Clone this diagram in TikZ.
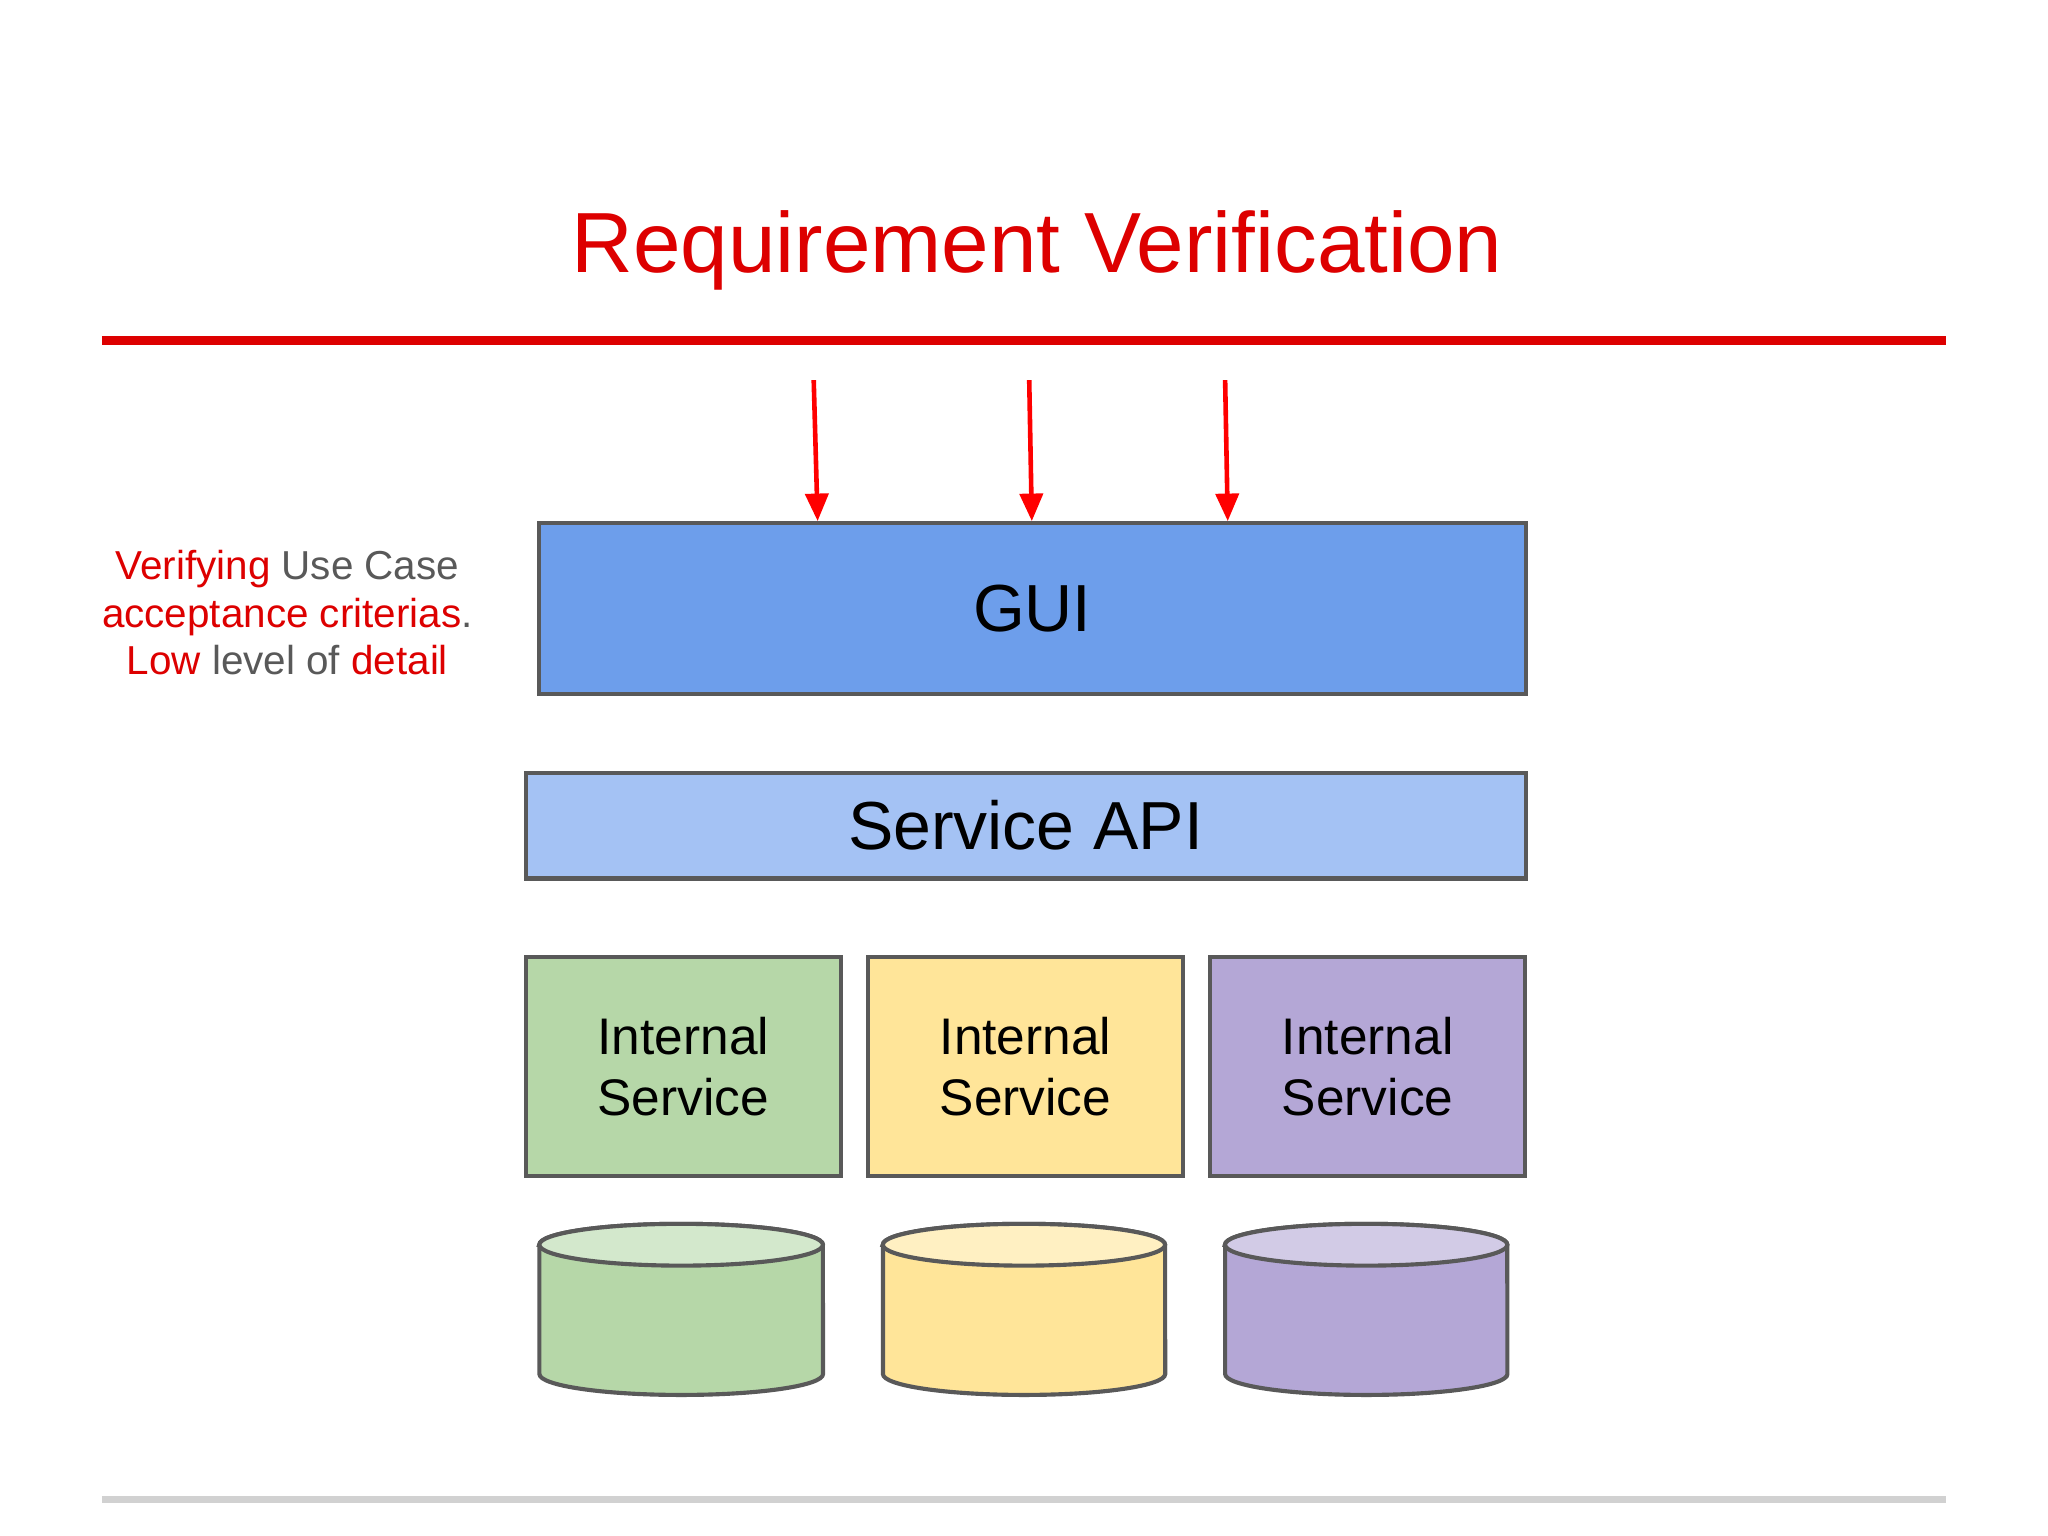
\documentclass[tikz,border=0pt]{standalone}
\usepackage{fontspec}
\setmainfont{Liberation Sans}
\usetikzlibrary{arrows.meta}
\definecolor{tred}{HTML}{DD0000}
\definecolor{edge}{HTML}{595959}
\definecolor{gui}{HTML}{6D9EEB}
\definecolor{api}{HTML}{A4C2F4}
\definecolor{gr}{HTML}{B6D7A8}
\definecolor{grl}{HTML}{D3E8CC}
\definecolor{ye}{HTML}{FFE599}
\definecolor{yel}{HTML}{FFF0C2}
\definecolor{pu}{HTML}{B4A7D6}
\definecolor{pul}{HTML}{D2CBE6}
\definecolor{gtxt}{HTML}{595959}
\tikzset{
 layer/.style={draw=edge,line width=0.9pt,inner sep=0pt,anchor=north west},
 svc/.style={layer,minimum width=2.41cm,minimum height=1.68cm,font=\fontsize{11.2}{13.4}\selectfont,align=center},
 down/.style={-{Triangle[length=6pt,width=5pt]},red,line width=1pt},
 cyl/.style={draw=edge,line width=0.9pt}
}
\newcommand{\cylinder}[4]{% cx, rx(cm), fill, topfill
 \draw[cyl,fill=#3] (#1-#2*100,953) -- (#1-#2*100,1052) arc[start angle=180,end angle=360,x radius=#2cm,y radius=0.16cm] -- (#1+#2*100,953) arc[start angle=0,end angle=180,x radius=#2cm,y radius=0.16cm] -- cycle;
 \draw[cyl,fill=#4] (#1,953) ellipse[x radius=#2cm,y radius=0.16cm];}
\begin{document}
\begin{tikzpicture}[x=0.01cm,y=-0.01cm]
\useasboundingbox[fill=white] (0,0) rectangle (1568,1176);
\node[text=tred,font=\fontsize{18.6}{22}\selectfont] (title) at (794,192) {Requirement Verification};
\draw[tred,line width=2pt] (78,261) -- (1490,261);
\draw[black!18,line width=1.7pt] (78,1148) -- (1490,1148);
\node[layer,fill=gui,minimum width=7.55cm,minimum height=1.31cm,font=\fontsize{14.5}{17}\selectfont] (gui) at (411,399) {GUI};
\node[layer,fill=api,minimum width=7.65cm,minimum height=0.81cm,font=\fontsize{14.8}{17}\selectfont] (api) at (401,590) {Service API};
\node[svc,fill=gr] (s1) at (401,731) {Internal\\Service};
\node[svc,fill=ye] (s2) at (663,731) {Internal\\Service};
\node[svc,fill=pu] (s3) at (925,731) {Internal\\Service};
\coordinate (a1) at (623,291); \coordinate (a2) at (788,291); \coordinate (a3) at (938,291);
\draw[down] (a1) -- (gui.north west -| 626,0);
\draw[down] (a2) -- (gui.north west -| 790,0);
\draw[down] (a3) -- (gui.north west -| 940,0);
\node[align=center,font=\fontsize{8.8}{10.3}\selectfont,text=gtxt] (note) at (220,469)
 {\textcolor{tred}{Verifying} Use Case\\\textcolor{tred}{acceptance criterias}.\\\textcolor{tred}{Low} level of \textcolor{tred}{detail}};
\cylinder{521.5}{1.085}{gr}{grl}
\cylinder{784}{1.08}{ye}{yel}
\cylinder{1046}{1.08}{pu}{pul}
\end{tikzpicture}
\end{document}
